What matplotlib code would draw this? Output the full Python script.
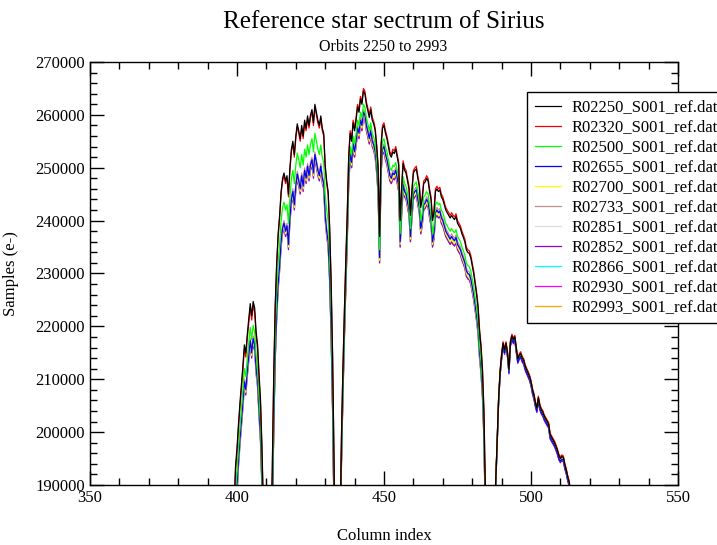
import numpy as np
import matplotlib
matplotlib.use("Agg")
import matplotlib.pyplot as plt
from matplotlib.ticker import MultipleLocator, FuncFormatter

# Column index (half-column sampling)
columns = np.arange(398.0, 514.5, 0.5)

# Reference spectrum of R02250 (black)
base_r1 = [160000, 175000, 186000, 193500, 197000, 201500, 205500, 209000, 212500, 216500,
           215000, 218500, 221500, 224300, 222000, 224700, 223500, 219000, 216500, 211000,
           206000, 197000, 185000, 165000, 150000, 150000, 160000, 178000]
base_r2 = [193000, 211000, 224000, 232000, 237500, 241000, 245500, 248000, 249000, 247500,
           248500, 245000, 250000, 253500, 255000, 252500, 256000, 258300, 257000, 255500,
           258000, 256000, 259000, 257500, 259800, 258000, 260000, 261000, 258500, 262000,
           260500, 259000, 258000, 259800, 257500, 256500, 250500, 247500, 245500, 239000,
           229000, 215000, 195000, 165000, 150000, 160000, 178000]
base_r3 = [198000, 211000, 222000, 232000, 241000, 252000, 256500, 255000, 258500, 257000,
           259000, 261500, 260500, 263000, 262000, 264500, 264000, 262000, 260800, 259500,
           261000, 259000, 258300, 257000, 254000, 250000, 237000, 254000, 257500, 258000,
           256500, 255500, 254000, 252500, 252000, 253000, 252700, 253500, 252000, 250500,
           240000, 246000, 250800, 249500, 249000, 247500, 246000, 241000, 245500, 249000,
           249500, 249800, 248000, 246500, 242500, 244000, 247000, 247300, 248000, 247500,
           245500, 244000, 240000, 241500, 245500, 246000, 245500, 245800, 244500, 244000,
           243000, 242000, 241500, 241000, 240500, 241000, 240500, 240200, 240800, 239500,
           239000, 238500, 237500, 236800, 236000, 234500, 234000, 233800, 233000, 231500,
           230000, 228000, 226000, 223500, 219000, 216000, 211500, 203500, 188000, 170000,
           155000, 150000, 155000, 168000, 183000]
base_r4 = [190500, 198500, 206500, 211500, 214500, 216800, 215500, 216800, 215000, 211800,
           217000, 218200, 217500, 218000, 215800, 213800, 214500, 214900, 214000, 213600,
           212500, 211800, 211200, 210500, 209500, 208000, 207000, 205500, 204500, 206500,
           205000, 204200, 203800, 203000, 202500, 202000, 201500, 199500, 199000, 198500,
           198000, 197300, 196500, 195500, 195000, 195400, 195200, 193800, 192800, 191500,
           190500, 188000, 185000]

series_names = ["R02250_S001_ref.dat", "R02320_S001_ref.dat", "R02500_S001_ref.dat",
                "R02655_S001_ref.dat", "R02700_S001_ref.dat", "R02733_S001_ref.dat",
                "R02851_S001_ref.dat", "R02852_S001_ref.dat", "R02866_S001_ref.dat",
                "R02930_S001_ref.dat", "R02993_S001_ref.dat"]
series_colors = ["#000000", "#ff0000", "#00ff00", "#0000ff", "#ffff00", "#bc8f8f",
                 "#dcdcdc", "#9400d3", "#00ffff", "#ff00ff", "#ffa500"]

# Level difference of each orbit from R02250 in each of the 4 bands
band_delta = {
    "R02250_S001_ref.dat": [0, 0, 0, 0],
    "R02320_S001_ref.dat": [-800, -500, 500, 300],
    "R02500_S001_ref.dat": [-4500, -5500, -2500, 0],
    "R02655_S001_ref.dat": [-7000, -9500, -4000, -500],
    "R02700_S001_ref.dat": [-7500, -10000, -4500, -300],
    "R02733_S001_ref.dat": [-6500, -9000, -3500, 0],
    "R02851_S001_ref.dat": [-7000, -9500, -4000, -200],
    "R02852_S001_ref.dat": [-8000, -10500, -5000, -800],
    "R02866_S001_ref.dat": [-7500, -10000, -4500, -600],
    "R02930_S001_ref.dat": [-7000, -9500, -4000, -400],
    "R02993_S001_ref.dat": [-7500, -10000, -5000, -500],
}

bands = [base_r1, base_r2, base_r3, base_r4]

plt.rcParams['font.family'] = ['Liberation Serif', 'DejaVu Serif']

fig = plt.figure(figsize=(7.17, 5.45), dpi=100)
ax = fig.add_axes([90/717, 1-485/545, (678-90)/717, (485-62)/545])

handles = {}
for name, color in list(zip(series_names, series_colors))[::-1]:
    vals = []
    for b, d in zip(bands, band_delta[name]):
        vals.extend([v + d for v in b])
    h, = ax.plot(columns, vals, color=color, lw=0.9, label=name)
    handles[name] = h

ax.set_xlim(350, 550)
ax.set_ylim(190000, 270000)
ax.xaxis.set_major_locator(MultipleLocator(50))
ax.xaxis.set_minor_locator(MultipleLocator(10))
ax.yaxis.set_major_locator(MultipleLocator(10000))
ax.yaxis.set_minor_locator(MultipleLocator(2000))
ax.yaxis.set_major_formatter(FuncFormatter(lambda v, p: f"{int(round(v))}"))
ax.tick_params(which='both', direction='in', top=True, right=True, labelsize=12, width=1)
ax.tick_params(which='major', length=10)
ax.tick_params(which='minor', length=5)
for s in ax.spines.values():
    s.set_linewidth(1)

ax.set_xlabel("Column index", fontsize=12, labelpad=16)
ax.set_ylabel("Samples (e-)", fontsize=12, labelpad=12)

fig.text(384/717, 1-22/545, "Reference star sectrum of Sirius", ha='center', va='center', fontsize=18)
fig.text(383/717, 1-47/545, "Orbits 2250 to 2993", ha='center', va='center', fontsize=11.5)

leg = fig.legend([handles[n] for n in series_names], series_names,
                 loc='upper left', bbox_to_anchor=(527/717, 1-92/545),
                 fontsize=12, frameon=True, fancybox=False, framealpha=1,
                 edgecolor='black', borderaxespad=0, borderpad=0.45,
                 handlelength=1.6, handletextpad=0.6, labelspacing=0.24)
leg.get_frame().set_linewidth(1)

fig.savefig("out.png", dpi=100)
